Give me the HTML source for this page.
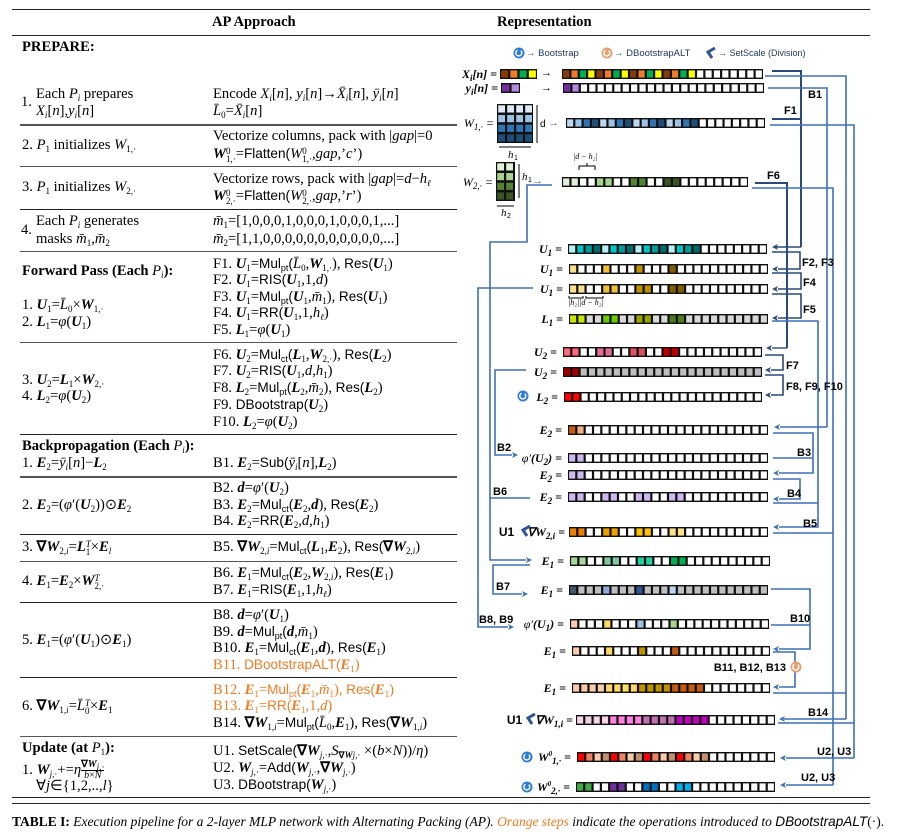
<!DOCTYPE html>
<html><head><meta charset="utf-8">
<style>
html,body{margin:0;padding:0;background:#fff;}
#pg{position:relative;width:904px;height:834px;overflow:hidden;font-family:"Liberation Serif",serif;font-size:14.6px;color:#000;}
.t{position:absolute;white-space:nowrap;line-height:16px;}
.s{font-family:"Liberation Sans",sans-serif;font-size:13.6px;}
.o{color:#F07B22;}
sub{font-size:9px;vertical-align:-3px;line-height:0;}
sup{font-size:9px;vertical-align:5px;line-height:0;}
.ss{display:inline-block;vertical-align:-4px;font-size:9px;line-height:8px;}
.ss>span{display:block;}
.hr{position:absolute;height:0;border-top:1px solid #222;}
svg{position:absolute;left:0;top:0;}
</style></head><body><div id="pg">
<div class="hr" style="left:12px;top:9px;width:858px;border-top-width:1.5px"></div>
<div class="hr" style="left:12px;top:35px;width:858px"></div>
<div class="hr" style="left:12px;top:797px;width:858px;border-top-width:1.5px"></div>
<div class="hr" style="left:12px;top:803px;width:858px;border-top-width:1.5px"></div>
<div class="hr" style="left:20px;top:124px;width:437px;border-color:#555;border-top-width:2px"></div>
<div class="hr" style="left:20px;top:166px;width:437px;border-color:#555;border-top-width:1.5px"></div>
<div class="hr" style="left:20px;top:209px;width:437px"></div>
<div class="hr" style="left:20px;top:251px;width:437px;border-color:#555;border-top-width:1.5px"></div>
<div class="hr" style="left:20px;top:342px;width:437px;border-color:#555;border-top-width:1.5px"></div>
<div class="hr" style="left:20px;top:434px;width:437px"></div>
<div class="hr" style="left:20px;top:476px;width:437px;border-color:#555;border-top-width:2px"></div>
<div class="hr" style="left:20px;top:534px;width:437px"></div>
<div class="hr" style="left:20px;top:561px;width:437px;border-color:#555;border-top-width:1.5px"></div>
<div class="hr" style="left:20px;top:602px;width:437px"></div>
<div class="hr" style="left:20px;top:677px;width:437px"></div>
<div class="hr" style="left:20px;top:736px;width:437px;border-color:#555;border-top-width:1.5px"></div>

<div class="t" style="left:212px;top:14px;font-weight:bold">AP Approach</div>
<div class="t" style="left:497px;top:14px;font-weight:bold">Representation</div>
<div class="t" style="left:22px;top:39px;font-weight:bold">PREPARE:</div>

<div class="t" style="left:21px;top:94px">1.</div>
<div class="t" style="left:36px;top:86px">Each <i>P<sub>i</sub></i> prepares</div>
<div class="t" style="left:36px;top:103px"><i>X<sub>i</sub></i>[<i>n</i>],<i>y<sub>i</sub></i>[<i>n</i>]</div>
<div class="t" style="left:213px;top:86px">Encode <i>X<sub>i</sub></i>[<i>n</i>], <i>y<sub>i</sub></i>[<i>n</i>]→<i>X̄<sub>i</sub></i>[<i>n</i>], <i>ȳ<sub>i</sub></i>[<i>n</i>]</div>
<div class="t" style="left:213px;top:103px"><i>L̄</i><sub>0</sub>=<i>X̄<sub>i</sub></i>[<i>n</i>]</div>

<div class="t" style="left:22px;top:137px">2. <i>P</i><sub>1</sub> initializes <i>W</i><sub>1,·</sub></div>
<div class="t" style="left:213px;top:128px">Vectorize columns, pack with |<i>gap</i>|=0</div>
<div class="t" style="left:213px;top:146px"><b><i>W</i></b><span class="ss"><span>0</span><span>1,·</span></span>=<span class="s">Flatten(</span><i>W</i><span class="ss"><span>0</span><span>1,·</span></span>,<i>gap</i>,’<i>c</i>’)</div>

<div class="t" style="left:22px;top:179px">3. <i>P</i><sub>1</sub> initializes <i>W</i><sub>2,·</sub></div>
<div class="t" style="left:213px;top:171px">Vectorize rows, pack with |<i>gap</i>|=<i>d</i>−<i>h<sub>ℓ</sub></i></div>
<div class="t" style="left:213px;top:188px"><b><i>W</i></b><span class="ss"><span>0</span><span>2,·</span></span>=<span class="s">Flatten(</span><i>W</i><span class="ss"><span>0</span><span>2,·</span></span>,<i>gap</i>,’<i>r</i>’)</div>

<div class="t" style="left:21px;top:222px">4.</div>
<div class="t" style="left:36px;top:213px">Each <i>P<sub>i</sub></i> generates</div>
<div class="t" style="left:36px;top:231px">masks <i>m̄</i><sub>1</sub>,<i>m̄</i><sub>2</sub></div>
<div class="t" style="left:213px;top:213px"><i>m̄</i><sub>1</sub>=[1,0,0,0,1,0,0,0,1,0,0,0,1,...]</div>
<div class="t" style="left:213px;top:231px"><i>m̄</i><sub>2</sub>=[1,1,0,0,0,0,0,0,0,0,0,0,0,...]</div>

<div class="t" style="left:22px;top:263px;font-weight:bold">Forward Pass (Each <i style="font-weight:normal">P<sub>i</sub></i>):</div>
<div class="t" style="left:22px;top:297px">1. <b><i>U</i></b><sub>1</sub>=<i>L̄</i><sub>0</sub>×<b><i>W</i></b><sub>1,·</sub></div>
<div class="t" style="left:22px;top:314px">2. <b><i>L</i></b><sub>1</sub>=<i>φ</i>(<b><i>U</i></b><sub>1</sub>)</div>
<div class="t" style="left:213px;top:256px">F1. <b><i>U</i></b><sub>1</sub>=<span class="s">Mul<sub>pt</sub>(</span><i>L̄</i><sub>0</sub>,<b><i>W</i></b><sub>1,·</sub>), <span class="s">Res(</span><b><i>U</i></b><sub>1</sub>)</div>
<div class="t" style="left:213px;top:272px">F2. <b><i>U</i></b><sub>1</sub>=<span class="s">RIS(</span><b><i>U</i></b><sub>1</sub>,1,<i>d</i>)</div>
<div class="t" style="left:213px;top:289px">F3. <b><i>U</i></b><sub>1</sub>=<span class="s">Mul<sub>pt</sub>(</span><b><i>U</i></b><sub>1</sub>,<i>m̄</i><sub>1</sub>), <span class="s">Res(</span><b><i>U</i></b><sub>1</sub>)</div>
<div class="t" style="left:213px;top:305px">F4. <b><i>U</i></b><sub>1</sub>=<span class="s">RR(</span><b><i>U</i></b><sub>1</sub>,1,<i>h<sub>ℓ</sub></i>)</div>
<div class="t" style="left:213px;top:322px">F5. <b><i>L</i></b><sub>1</sub>=<i>φ</i>(<b><i>U</i></b><sub>1</sub>)</div>

<div class="t" style="left:22px;top:372px">3. <b><i>U</i></b><sub>2</sub>=<b><i>L</i></b><sub>1</sub>×<b><i>W</i></b><sub>2,·</sub></div>
<div class="t" style="left:22px;top:388px">4. <b><i>L</i></b><sub>2</sub>=<i>φ</i>(<b><i>U</i></b><sub>2</sub>)</div>
<div class="t" style="left:213px;top:347px">F6. <b><i>U</i></b><sub>2</sub>=<span class="s">Mul<sub>ct</sub>(</span><b><i>L</i></b><sub>1</sub>,<b><i>W</i></b><sub>2,·</sub>), <span class="s">Res(</span><b><i>L</i></b><sub>2</sub>)</div>
<div class="t" style="left:213px;top:363px">F7. <b><i>U</i></b><sub>2</sub>=<span class="s">RIS(</span><b><i>U</i></b><sub>1</sub>,<i>d</i>,<i>h</i><sub>1</sub>)</div>
<div class="t" style="left:213px;top:380px">F8. <b><i>L</i></b><sub>2</sub>=<span class="s">Mul<sub>pt</sub>(</span><b><i>L</i></b><sub>2</sub>,<i>m̄</i><sub>2</sub>), <span class="s">Res(</span><b><i>L</i></b><sub>2</sub>)</div>
<div class="t" style="left:213px;top:397px">F9. <span class="s">DBootstrap(</span><b><i>U</i></b><sub>2</sub>)</div>
<div class="t" style="left:213px;top:414px">F10. <b><i>L</i></b><sub>2</sub>=<i>φ</i>(<b><i>U</i></b><sub>2</sub>)</div>

<div class="t" style="left:22px;top:438px;font-weight:bold">Backpropagation (Each <i style="font-weight:normal">P<sub>i</sub></i>):</div>
<div class="t" style="left:22px;top:455px">1. <b><i>E</i></b><sub>2</sub>=<i>ȳ<sub>i</sub></i>[<i>n</i>]−<b><i>L</i></b><sub>2</sub></div>
<div class="t" style="left:213px;top:455px">B1. <b><i>E</i></b><sub>2</sub>=<span class="s">Sub(</span><i>ȳ<sub>i</sub></i>[<i>n</i>],<b><i>L</i></b><sub>2</sub>)</div>

<div class="t" style="left:22px;top:497px">2. <b><i>E</i></b><sub>2</sub>=(<i>φ</i>′(<b><i>U</i></b><sub>2</sub>))⊙<b><i>E</i></b><sub>2</sub></div>
<div class="t" style="left:213px;top:480px">B2. <b><i>d</i></b>=<i>φ</i>′(<b><i>U</i></b><sub>2</sub>)</div>
<div class="t" style="left:213px;top:497px">B3. <b><i>E</i></b><sub>2</sub>=<span class="s">Mul<sub>ct</sub>(</span><b><i>E</i></b><sub>2</sub>,<b><i>d</i></b>), <span class="s">Res(</span><b><i>E</i></b><sub>2</sub>)</div>
<div class="t" style="left:213px;top:513px">B4. <b><i>E</i></b><sub>2</sub>=<span class="s">RR(</span><b><i>E</i></b><sub>2</sub>,<i>d</i>,<i>h</i><sub>1</sub>)</div>

<div class="t" style="left:22px;top:539px">3. <b>∇<i>W</i></b><sub>2,<i>i</i></sub>=<b><i>L</i></b><span class="ss"><span><i>T</i></span><span>1</span></span>×<b><i>E</i></b><sub><i>l</i></sub></div>
<div class="t" style="left:213px;top:539px">B5. <b>∇<i>W</i></b><sub>2,<i>i</i></sub>=<span class="s">Mul<sub>ct</sub>(</span><b><i>L</i></b><sub>1</sub>,<b><i>E</i></b><sub>2</sub>), <span class="s">Res(</span><b>∇<i>W</i></b><sub>2,<i>i</i></sub>)</div>

<div class="t" style="left:22px;top:573px">4. <b><i>E</i></b><sub>1</sub>=<b><i>E</i></b><sub>2</sub>×<b><i>W</i></b><span class="ss"><span><i>T</i></span><span>2,·</span></span></div>
<div class="t" style="left:213px;top:565px">B6. <b><i>E</i></b><sub>1</sub>=<span class="s">Mul<sub>ct</sub>(</span><b><i>E</i></b><sub>2</sub>,<b><i>W</i></b><sub>2,<i>i</i></sub>), <span class="s">Res(</span><b><i>E</i></b><sub>1</sub>)</div>
<div class="t" style="left:213px;top:582px">B7. <b><i>E</i></b><sub>1</sub>=<span class="s">RIS(</span><b><i>E</i></b><sub>1</sub>,1,<i>h<sub>ℓ</sub></i>)</div>

<div class="t" style="left:22px;top:632px">5. <b><i>E</i></b><sub>1</sub>=(<i>φ</i>′(<b><i>U</i></b><sub>1</sub>)⊙<b><i>E</i></b><sub>1</sub>)</div>
<div class="t" style="left:213px;top:607px">B8. <b><i>d</i></b>=<i>φ</i>′(<b><i>U</i></b><sub>1</sub>)</div>
<div class="t" style="left:213px;top:624px">B9. <b><i>d</i></b>=<span class="s">Mul<sub>pt</sub>(</span><b><i>d</i></b>,<i>m̄</i><sub>1</sub>)</div>
<div class="t" style="left:213px;top:640px">B10. <b><i>E</i></b><sub>1</sub>=<span class="s">Mul<sub>ct</sub>(</span><b><i>E</i></b><sub>1</sub>,<b><i>d</i></b>), <span class="s">Res(</span><b><i>E</i></b><sub>1</sub>)</div>
<div class="t o" style="left:213px;top:657px">B11. <span class="s">DBootstrapALT(</span><b><i>E</i></b><sub>1</sub>)</div>

<div class="t" style="left:22px;top:698px">6. <b>∇<i>W</i></b><sub>1,<i>i</i></sub>=<i>L̄</i><span class="ss"><span><i>T</i></span><span>0</span></span>×<b><i>E</i></b><sub>1</sub></div>
<div class="t o" style="left:213px;top:682px">B12. <b><i>E</i></b><sub>1</sub>=<span class="s">Mul<sub>pt</sub>(</span><b><i>E</i></b><sub>1</sub>,<i>m̄</i><sub>1</sub>), <span class="s">Res(</span><b><i>E</i></b><sub>1</sub>)</div>
<div class="t o" style="left:213px;top:698px">B13. <b><i>E</i></b><sub>1</sub>=<span class="s">RR(</span><b><i>E</i></b><sub>1</sub>,1,<i>d</i>)</div>
<div class="t" style="left:213px;top:715px">B14. <b>∇<i>W</i></b><sub>1,<i>i</i></sub>=<span class="s">Mul<sub>pt</sub>(</span><i>L̄</i><sub>0</sub>,<b><i>E</i></b><sub>1</sub>), <span class="s">Res(</span><b>∇<i>W</i></b><sub>1,<i>i</i></sub>)</div>

<div class="t" style="left:22px;top:740px;font-weight:bold">Update (at <i style="font-weight:normal">P</i><sub style="font-weight:normal">1</sub>):</div>
<div class="t" style="left:22px;top:760px">1. <b><i>W</i></b><sub><i>j</i>,·</sub>+=<i>η</i><span style="display:inline-block;vertical-align:middle;text-align:center;font-size:10px;line-height:10px"><span style="display:block;border-bottom:1px solid #000"><b>∇<i>W</i></b><sub><i>j</i>,·</sub></span><span style="display:block"><i>b</i>×<i>N</i></span></span></div>
<div class="t" style="left:36px;top:778px">∀<i>j</i>∈{1,2,..,<i>l</i>}</div>
<div class="t" style="left:213px;top:743px">U1. <span class="s">SetScale(</span><b>∇<i>W</i></b><sub><i>j</i>,·</sub>,<i>S</i><sub><b>∇<i>W</i></b><i>j</i>,·</sub> ×(<i>b</i>×<i>N</i>))/<i>η</i>)</div>
<div class="t" style="left:213px;top:760px">U2. <b><i>W</i></b><sub><i>j</i>,·</sub>=<span class="s">Add(</span><b><i>W</i></b><sub><i>j</i>,·</sub>,<b>∇<i>W</i></b><sub><i>j</i>,·</sub>)</div>
<div class="t" style="left:213px;top:777px">U3. <span class="s">DBootstrap(</span><b><i>W</i></b><sub><i>j</i>,·</sub>)</div>

<div class="t" style="left:12px;top:814px;font-size:13.5px"><b>TABLE I:</b> <i>Execution pipeline for a 2-layer MLP network with Alternating Packing (AP). <span class="o">Orange steps</span> indicate the operations introduced to </i><i class="s">DBootstrapALT</i>(·).</div>

<svg id="sv" width="904" height="834" viewBox="0 0 904 834"></svg>
</div>
<script>
const NS="http://www.w3.org/2000/svg",sv=document.getElementById('sv');
function el(t,a,txt){const e=document.createElementNS(NS,t);for(const k in a)e.setAttribute(k,a[k]);if(txt!==undefined)e.textContent=txt;sv.appendChild(e);return e;}
function pat(n,m,d){const a=[];for(let i=0;i<n;i++)a.push(m[i]||d||'#fff');return a;}
function rep(list,times,n){const a=[];for(let t=0;t<times;t++)for(const c of list)a.push(c);while(a.length<n)a.push('#fff');return a;}
function cells(x0,x1,y,cols,h){h=h||10;const n=cols.length,cw=(x1-x0)/n;
 el('rect',{x:x0,y:y,width:x1-x0,height:h,fill:'#111'});
 cols.forEach((c,i)=>el('rect',{x:x0+i*cw+1.1,y:y+1.4,width:cw-2.2,height:h-2.8,fill:c}));}
function pairs(n,cs,d){const m={};cs.forEach((c,k)=>{m[k*4]=c;m[k*4+1]=c;});return pat(n,m,d);}
function quads(n,cs,d){const m={};cs.forEach((c,k)=>{for(let j=0;j<4;j++)m[k*4+j]=c;});return pat(n,m,d);}
function singles(n,cs,d){const m={};cs.forEach((c,k)=>{m[k*4]=c;});return pat(n,m,d);}
function lab(x,y,html){const f=el('foreignObject',{x:x-120,y:y-9,width:120,height:20});
 f.innerHTML='<div xmlns="http://www.w3.org/1999/xhtml" style="text-align:right;font:italic bold 12px Liberation Serif,serif;white-space:nowrap;line-height:18px">'+html+'</div>';}
function txt(x,y,s,o){o=o||{};el('text',Object.assign({x:x,y:y,'font-family':'Liberation Sans, sans-serif','font-size':11,'font-weight':'bold'},o),s);}
function boot(x,y,c){el('circle',{cx:x,cy:y,r:5.5,fill:c});el('path',{d:`M${x-1.5} ${y-2.8} A3 3 0 1 0 ${x+1.8} ${y-2.3}`,fill:'none',stroke:'#fff','stroke-width':1.4});}
function ss(x,y){el('path',{d:`M${x+4} ${y-5} L${x-3} ${y-1} L${x+1} ${y+5}`,fill:'none',stroke:'#2F5597','stroke-width':3});}
const D='#2B4A7C',B='#3D70B8';
function pl(pts,c,w){el('polyline',{points:pts,fill:'none',stroke:c||B,'stroke-width':w||1.6});}
function arrL(x,y,c){el('path',{d:`M${x} ${y} l6 -3 l-1.5 3 l1.5 3z`,fill:c||B});}
function arrR(x,y,c){el('path',{d:`M${x} ${y} l-6 -3 l1.5 3 l-1.5 3z`,fill:c||B});}

boot(519,53,'#2F7BD8');txt(526,56,'→ Bootstrap',{'font-size':9.5,'font-weight':'normal',fill:'#1F3864'});
boot(607,53,'#E8A070');txt(614,56,'→ DBootstrapALT',{'font-size':9.5,'font-weight':'normal',fill:'#1F3864'});
ss(711,53);txt(718,56,'→ SetScale (Division)',{'font-size':9,'font-weight':'normal',fill:'#1F3864'});

const XC=['#843C0C','#F07B2A','#00B050','#FFFF00'];
cells(500,537,69,XC);cells(562,763,69,rep(XC,4,24));
cells(501,520,83,['#7030A0','#B28BE0']);cells(563,764,83,pat(24,{0:'#7030A0',1:'#B28BE0'}));
lab(497,74,'X<sub>i</sub>[n] =');lab(498,88,'y<sub>i</sub>[n] =');
txt(541,76,'→',{'font-weight':'normal','font-size':11});txt(541,91,'→',{'font-weight':'normal','font-size':11});
const W1r=['#DEEBF7','#9DC3E6','#2E75B6','#1F4E79'];
el('rect',{x:497,y:104,width:36,height:39,fill:'#111'});
for(let r=0;r<4;r++)for(let c=0;c<4;c++)el('rect',{x:498.2+c*9,y:105.3+r*9.7,width:6.8,height:7.2,fill:W1r[r]});
lab(494,123,'<span style="font-weight:normal">W<sub>1,·</sub> =</span>');
cells(566,765,118,rep(['#BDD7EE','#9DC3E6','#2E75B6','#1F4E79'],4,24));
pl('537,105 537,143','#000',1);txt(540,127,'d',{'font-weight':'normal','font-size':10});
txt(548,126,'→',{'font-weight':'normal',fill:B});
pl('499,147 531,147','#000',1);txt(508,158,'h',{'font-style':'italic','font-weight':'normal','font-family':'Liberation Serif'});txt(514,160,'1',{'font-size':7,'font-weight':'normal'});
const W2r=['#E2EFDA','#A9D18E','#548235','#375623'];
el('rect',{x:496,y:162,width:19,height:39,fill:'#111'});
for(let r=0;r<4;r++)for(let c=0;c<2;c++)el('rect',{x:497.2+c*9,y:163.3+r*9.7,width:6.8,height:7.2,fill:W2r[r]});
lab(493,182,'<span style="font-weight:normal">W<sub>2,·</sub> =</span>');
pl('519,164 519,198','#000',1);txt(522,180,'h',{'font-style':'italic','font-weight':'normal','font-family':'Liberation Serif'});txt(528,182,'1',{'font-size':7,'font-weight':'normal'});
txt(532,184,'→',{'font-weight':'normal',fill:B});
pl('497,206 514,206','#000',1);txt(501,216,'h',{'font-style':'italic','font-weight':'normal','font-family':'Liberation Serif'});txt(507,218,'2',{'font-size':7,'font-weight':'normal'});
{const m={};[[0,'#E2EFDA'],[1,'#E2EFDA'],[4,'#A9D18E'],[5,'#A9D18E'],[8,'#548235'],[9,'#548235'],[12,'#375623'],[13,'#375623']].forEach(([i,c])=>m[i]=c);cells(562,748,177,pat(22,m));}
txt(573,159,'|d − h₂|',{'font-weight':'normal','font-size':8,'font-style':'italic','font-family':'Liberation Serif'});
pl('579,170 579,166 595,166 595,170','#000',1);pl('587,166 587,163','#000',1);
lab(562,249,'U<sub>1</sub> =');cells(568,767,244,rep(['#B7F0F5','#00C8C8','#009C9C','#006B6B'],4,24));
lab(563,269,'U<sub>1</sub> =');cells(569,768,264,singles(24,['#FFE08A','#F2C037','#BF9000','#7F6000']));
lab(563,289,'U<sub>1</sub> =');cells(569,768,284,pairs(24,['#FFE08A','#F2C037','#BF9000','#7F6000']));
txt(568,305,'|h₂||d − h₂|',{'font-weight':'normal','font-size':8,'font-style':'italic','font-family':'Liberation Serif'});
pl('569,296 569,298 583,298 583,296','#000',1);pl('586,296 586,298 603,298 603,296','#000',1);
lab(563,319,'L<sub>1</sub> =');cells(569,768,314,pairs(24,['#C8E600','#66CC00','#9AA500','#4E7A1E'],'#D9D9D9'));
lab(557,352,'U<sub>2</sub> =');cells(563,762,347,pairs(24,['#FF6680','#E07090','#E05060','#C00000']));
lab(557,372,'U<sub>2</sub> =');cells(563,762,367,pat(24,{0:'#A00000',1:'#A00000'},'#BFBFBF'));
lab(558,397,'L<sub>2</sub> =');cells(564,762,392,pat(24,{0:'#FF0000',1:'#FF0000'}));boot(523,396,'#2F7BD8');
lab(562,430,'E<sub>2</sub> =');cells(568,768,425,pat(24,{0:'#C55A11',1:'#F4B183'}));
lab(562,458,'<span style="font-weight:normal">φ′</span>(U<sub>2</sub>) =');cells(568,768,453,pat(24,{0:'#CDB8F0',1:'#CDB8F0'}));
lab(562,475,'E<sub>2</sub> =');cells(568,768,470,pat(24,{0:'#CDB8F0',1:'#CDB8F0'}));
lab(562,497,'E<sub>2</sub> =');cells(568,768,492,pairs(24,['#CDB8F0','#CDB8F0','#CDB8F0','#CDB8F0']));
lab(565,532,'<span style="font-family:Liberation Sans;font-style:normal">U1</span>&#8195;&#8202;∇W<sub>2,i</sub> =');ss(526,531);cells(569,768,527,pairs(24,['#F08000','#F0A000','#FFC000','#FFE08A']));
lab(564,561,'E<sub>1</sub> =');cells(570,770,556,pairs(24,['#A9D5A0','#80C8A0','#20D0A0','#00B050']));
lab(563,590,'E<sub>1</sub> =');cells(569,768,585,singles(24,['#44546A','#8EA9DB','#2F5597','#BDD7EE'],'#BFBFBF'));
lab(564,624,'<span style="font-weight:normal">φ′</span>(U<sub>1</sub>) =');cells(570,769,619,singles(24,['#F8CBAD','#FFD966','#9DC3E6','#A9D18E']));
lab(566,651,'E<sub>1</sub> =');cells(572,770,646,singles(24,['#F8CBAD','#FFD966','#BF9000','#C55A11']));
lab(566,688,'E<sub>1</sub> =');cells(572,770,683,quads(24,['#F8CBAD','#FFD966','#BF9000','#C55A11']));
lab(573,720,'<span style="font-family:Liberation Sans;font-style:normal">U1</span>&#8195;&#8202;∇W<sub>1,i</sub> =');ss(531,719);cells(576,775,715,quads(24,['#F4D3E8','#FF80E0','#C070B0','#C000C0']));
lab(571,757,'W<sup style="font-size:7px">0</sup><sub>1,·</sub> =');boot(527,757,'#2F7BD8');cells(577,775,752,rep(['#FF0000','#F08060','#F8CBAD','#C09070'],4,24));
lab(570,787,'W<sup style="font-size:7px">0</sup><sub>2,·</sub> =');boot(527,787,'#2F7BD8');cells(576,775,782,pairs(24,['#44AA44','#7030A0','#0070C0','#00B0F0']));

pl('772,71 801,71 801,247',D,2);pl('772,119 801,119',D,2);pl('801,247 776,247',D,1.4);arrL(772,247,D);txt(784,114,'F1');txt(808,98,'B1');
pl('765,76 846,76 846,719');pl('846,719 784,719');arrL(779,719);
pl('768,88 827,88 827,427');pl('827,427 780,427');arrL(774,427);
pl('770,125 854,125 854,758');pl('854,758 786,758');arrL(780,758);
pl('755,183 787,183 787,348',D,2);pl('787,348 772,348',D,1.4);arrL(766,348,D);txt(767,179,'F6');
pl('752,188 833,188 833,785');pl('833,785 786,785');arrL(780,785);
pl('552,185 527,185 527,242 490,242 490,560 526,560');arrR(532,560);
pl('490,498 530,498');txt(493,495,'B6');
pl('533,288 478,288 478,627 508,627');arrR(514,627);txt(479,623,'B8, B9');
pl('526,370 495,370 495,455 512,455');arrR(518,455);txt(497,451,'B2');
pl('530,565 493,565 493,594 522,594');arrR(528,594);txt(496,590,'B7');
pl('772,252 800,252 800,269 778,269',D);arrL(772,269,D);txt(802,266,'F2, F3');
pl('772,273 801,273 801,289 778,289',D);arrL(772,289,D);txt(803,286,'F4');
pl('772,294 801,294 801,318 778,318',D);arrL(772,318,D);txt(803,313,'F5');
pl('772,321 818,321 818,527 779,527');arrL(773,527);txt(803,527,'B5');
pl('765,355 783,355 783,370 771,370',D);arrL(765,370,D);txt(786,369,'F7');
pl('765,375 783,375 783,395 771,395',D);arrL(765,395,D);txt(786,390,'F8, F9, F10');
pl('773,433 813,433 813,473 779,473');pl('773,458 813,458');arrL(773,473);txt(797,456,'B3');
pl('773,479 800,479 800,499 779,499');arrL(773,499);txt(787,497,'B4');
pl('773,503 818,503');
pl('773,533 833,533');
pl('771,589 810,589 810,649 779,649');pl('771,625 810,625');arrL(773,649);txt(790,622,'B10');
pl('773,652 795,652 795,687 779,687');arrL(773,687);boot(796,667,'#E8A070');txt(786,671,'B11, B12, B13',{'text-anchor':'end'});
pl('773,693 846,693');
pl('778,723 854,723');txt(808,716,'B14');
txt(817,755,'U2, U3');txt(801,781,'U2, U3');
</script>
</body></html>
